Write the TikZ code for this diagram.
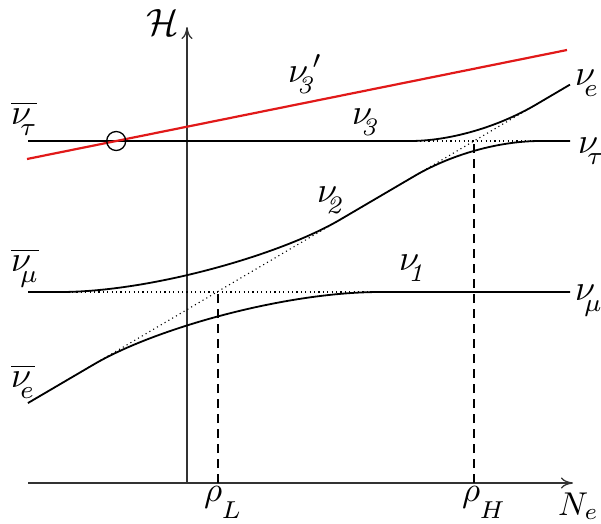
\documentclass[tikz,border=0pt]{standalone}
\usepackage{graphicx}
\usepackage{fontspec}
\usetikzlibrary{arrows.meta}
% nu-type label: symbol #1 with subscript #2 set low, tucked under it
\newcommand{\gsub}[2]{\scalebox{3.6}{$#1$\kern-3.1pt\raisebox{-3.2pt}{$\scriptstyle #2$}}}
\newcommand{\gbar}[1]{\scalebox{3.6}{$\overline{\hbox{$\nu$\kern-3.1pt\raisebox{-3.2pt}{$\scriptstyle #1$}\kern0.3pt}}$}}
\newcommand{\rsub}[2]{\scalebox{3.5}{$#1$\kern-0.2pt\raisebox{-5pt}{$\scriptstyle #2$}}}
\definecolor{lred}{RGB}{225,25,25}
\tikzset{
  axis/.style={line width=1.3pt, draw=black!80},
  curve/.style={line width=1.8pt, draw=black},
  guide/.style={line width=1.1pt, dash pattern=on 1.1pt off 3.3pt},
  dashline/.style={line width=1.3pt, dash pattern=on 9pt off 6pt},
  lab/.style={inner sep=0pt, anchor=base west, font=\fontsize{10}{12}\selectfont},
}
\begin{document}
\begin{tikzpicture}[x=1pt,y=-1pt]
\useasboundingbox (0,0) rectangle (601,523);
% axes
\coordinate (vb) at (187,483);
\coordinate (vt) at (187,27);
\coordinate (hl) at (28,483);
\coordinate (hr) at (573,483);
\draw[axis,-{To[length=12pt,width=11pt]}] (vb) -- (vt);
\draw[axis,-{To[length=12pt,width=11pt]}] (hl) -- (hr);
% dashed markers
\coordinate (rL) at (218,292);
\coordinate (rH) at (474,141);
\draw[dashline] (rL |- vb) -- (rL);
\draw[dashline] (rH |- vb) -- (rH);
% dotted unperturbed levels
\draw[guide] (28,292) -- (570,292);
\draw[guide] (28,141) -- (570,141);
\draw[guide] (28,403) -- (570,84.6);
% eigen-curves
\draw[curve] (28,403) -- (94,364.3) .. controls (154,329) and (284,292) .. (380,292) -- (570,292);
\draw[curve] (28,292) -- (60,292) .. controls (150,292) and (280,255) .. (340,219.7) -- (414,176.3) .. controls (452,153.9) and (500,141) .. (540,141) -- (570,141);
\draw[curve] (28,141) -- (410,141) .. controls (450,141) and (498,126.9) .. (536,104.6) -- (570,84.6);
% red line and circle
\draw[lred, line width=2.2pt] (27,159) -- (567,50);
\node[draw, circle, minimum size=19pt, inner sep=0pt, line width=1.3pt] (cross) at (116.2,141) {};
% labels
\node[lab, anchor=center] (H) at (163,23) {\scalebox{3.8}{$\mathcal{H}$}};
\node[lab] (ltau) at (11,124) {\gbar{\tau}};
\node[lab] (lmu) at (11,271) {\gbar{\mu}};
\node[lab] (le) at (11,387) {\gbar{e}};
\node[lab] (re) at (575,85) {\gsub{\nu}{e}};
\node[lab] (rtau) at (578,153) {\gsub{\nu}{\tau}};
\node[lab] (rmu) at (575,300) {\gsub{\nu}{\mu}};
\node[lab] (n3p) at (288,82) {\gsub{\nu}{\mathit{3}}\scalebox{3.6}{$^{\prime}$}};
\node[lab] (n3) at (352,124) {\gsub{\nu}{\mathit{3}}};
\node[lab] (n2) at (317,202) {\gsub{\nu}{\mathit{2}}};
\node[lab] (n1) at (399,270) {\gsub{\nu}{\mathit{1}}};
\node[lab] (pL) at (204,501) {\rsub{\rho}{L}};
\node[lab] (pH) at (462,501) {\rsub{\rho}{H}};
\node[lab] (Ne) at (558,515) {\scalebox{3.3}{$N_e$}};
\end{tikzpicture}
\end{document}
